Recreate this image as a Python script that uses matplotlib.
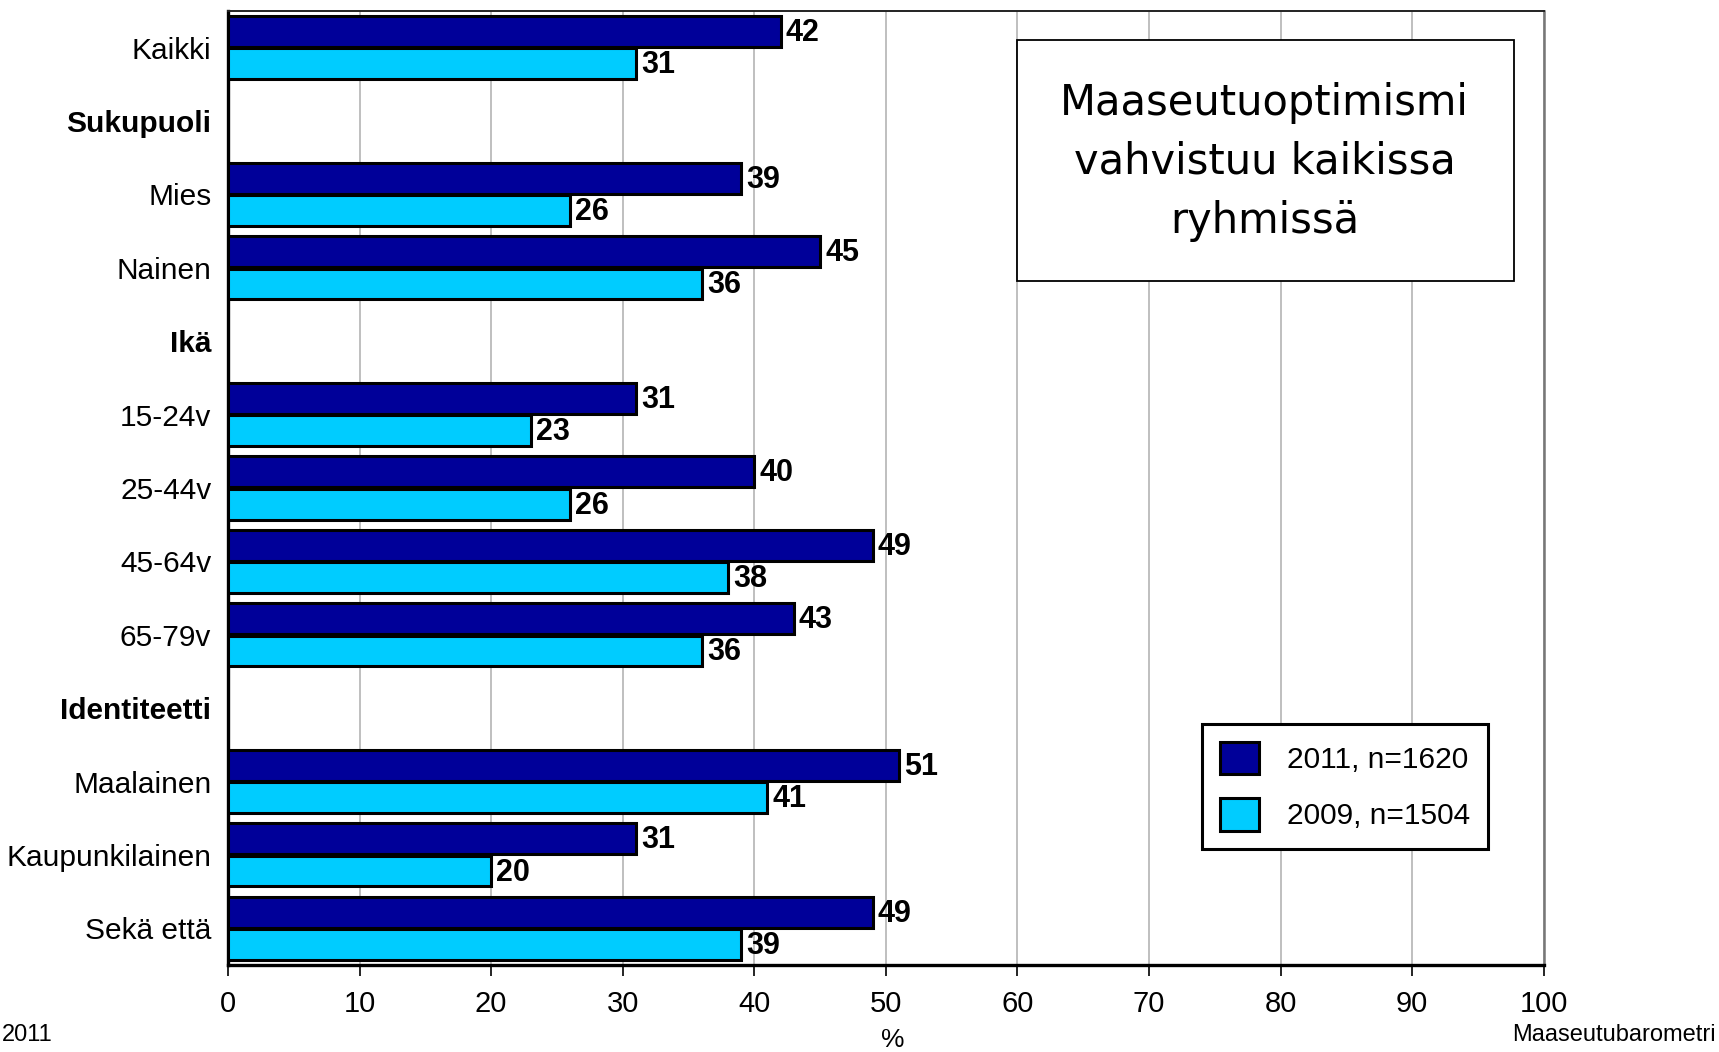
import matplotlib
matplotlib.use("Agg")

import numpy as np
import matplotlib.pyplot as plt
import matplotlib.patches as mpatches

# rivit ylhäältä alas; otsikkoriveillä ei palkkeja
rivit = ["Kaikki", "Sukupuoli", "Mies", "Nainen", "Ikä", "15-24v", "25-44v",
         "45-64v", "65-79v", "Identiteetti", "Maalainen", "Kaupunkilainen", "Sekä että"]
otsikot = ["Sukupuoli", "Ikä", "Identiteetti"]

v2011 = [42, np.nan, 39, 45, np.nan, 31, 40, 49, 43, np.nan, 51, 31, 49]
v2009 = [31, np.nan, 26, 36, np.nan, 23, 26, 38, 36, np.nan, 41, 20, 39]

sarjat = ["2011, n=1620", "2009, n=1504"]
x_ticks = list(range(0, 101, 10))

TUMMA = "#000099"
VAALEA = "#00CCFF"

plt.rcParams["font.family"] = ["Liberation Sans", "DejaVu Sans"]

fig = plt.figure(figsize=(17.19, 10.52), dpi=100, facecolor="white")
ax = fig.add_axes([0.1326, 0.0827, 0.7654, 0.9068])

y = np.arange(len(rivit))
h = 0.42
ax.barh(y - 0.22, v2011, height=h, color=TUMMA, edgecolor="black", linewidth=2.2, zorder=3)
ax.barh(y + 0.22, v2009, height=h, color=VAALEA, edgecolor="black", linewidth=2.2, zorder=3)

# arvot palkkien perään
for yy, a, b in zip(y, v2011, v2009):
    if not np.isnan(a):
        ax.text(a + 0.4, yy - 0.2, f"{a:.0f}", ha="left", va="center",
                fontsize=22, fontweight="bold", zorder=4)
    if not np.isnan(b):
        ax.text(b + 0.4, yy + 0.24, f"{b:.0f}", ha="left", va="center",
                fontsize=22, fontweight="bold", zorder=4)

ax.set_xlim(0, 100)
ax.set_ylim(len(rivit) - 0.5, -0.5)
ax.set_xticks(x_ticks)
ax.set_xticklabels([str(t) for t in x_ticks], fontsize=21)
ax.set_yticks(y)
ax.set_yticklabels(rivit, fontsize=21.5)
for lab in ax.get_yticklabels():
    if lab.get_text() in otsikot:
        lab.set_fontweight("bold")
ax.tick_params(axis="y", length=0, pad=12)
ax.tick_params(axis="x", length=8, width=1.2, pad=10, direction="out")

ax.xaxis.grid(True, color="#b4b4b4", linewidth=1.2, zorder=0)
ax.set_axisbelow(True)
ax.spines["left"].set_linewidth(2.4)
ax.spines["bottom"].set_linewidth(2.4)
ax.spines["top"].set_linewidth(1.4)
ax.spines["top"].set_color("#222222")
ax.spines["right"].set_linewidth(1.8)
ax.spines["right"].set_color("#777777")

# otsikkolaatikko
ax.add_patch(mpatches.Rectangle((0.5995, 0.717), 0.378, 0.253, transform=ax.transAxes,
                                facecolor="white", edgecolor="black", linewidth=1.3, zorder=5))
ax.text(0.788, 0.842, "Maaseutuoptimismi\nvahvistuu kaikissa\nryhmissä", transform=ax.transAxes,
        ha="center", va="center", fontsize=30, family="DejaVu Sans", linespacing=1.52, zorder=6)

handles = [mpatches.Patch(facecolor=TUMMA, edgecolor="black", linewidth=2.2, label=sarjat[0]),
           mpatches.Patch(facecolor=VAALEA, edgecolor="black", linewidth=2.2, label=sarjat[1])]
leg = ax.legend(handles=handles, loc="center", bbox_to_anchor=(0.849, 0.1875),
                fontsize=21.5, handlelength=1.3, handleheight=1.3, labelspacing=0.8,
                handletextpad=0.95, borderpad=0.6, borderaxespad=0, fancybox=False,
                framealpha=1, edgecolor="black")
leg.get_frame().set_linewidth(2.2)
leg.set_zorder(6)

fig.text(0.5195, 0.0115, "%", ha="center", va="center", fontsize=19)
fig.text(0.001, 0.006, "2011", ha="left", va="bottom", fontsize=17)
fig.text(0.998, 0.006, "Maaseutubarometri", ha="right", va="bottom", fontsize=17)

fig.savefig("out.png", dpi=100, facecolor="white")
